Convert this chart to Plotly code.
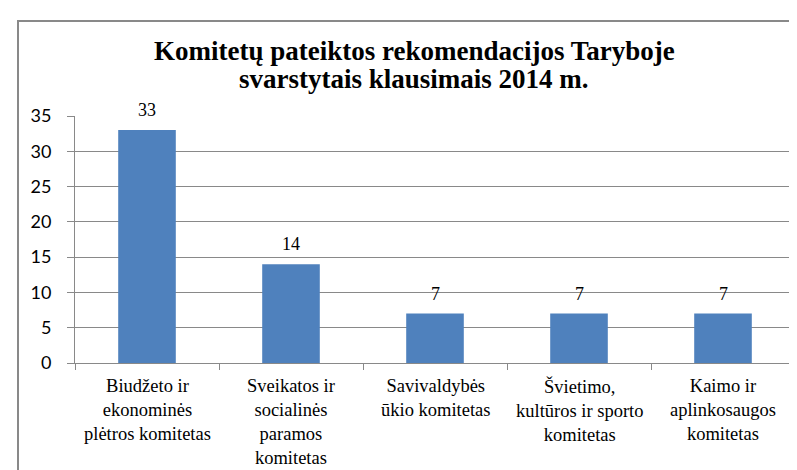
import plotly.graph_objects as go

categories = [
    "Biudžeto ir<br>ekonominės<br>plėtros komitetas",
    "Sveikatos ir<br>socialinės<br>paramos<br>komitetas",
    "Savivaldybės<br>ūkio komitetas",
    "Švietimo,<br>kultūros ir sporto<br>komitetas",
    "Kaimo ir<br>aplinkosaugos<br>komitetas",
]
values = [33, 14, 7, 7, 7]
title_lines = ["Komitetų pateiktos rekomendacijos Taryboje", "svarstytais klausimais 2014 m."]

SERIF = "Liberation Serif"
W, H = 797, 470
ml, mr, mt, mb = 67, 10, 108, 115
pw, ph = W - ml - mr, H - mt - mb

fig = go.Figure(go.Bar(
    x=categories, y=values,
    marker=dict(color="#4F81BD", line=dict(width=0)),
))

annots = []
for line, ypx in zip(title_lines, [43, 71]):
    annots.append(dict(text="<b>" + line + "</b>", xref="paper", yref="paper",
                       x=(406 - ml) / pw, y=1 + (mt - ypx) / ph, xanchor="center", yanchor="middle",
                       showarrow=False, font=dict(family=SERIF, size=27, color="#000")))
# category labels below the axis, placed by category through the x axis
for c in categories:
    annots.append(dict(text=c, xref="x", yref="paper", x=c, y=0, yshift=-11,
                       xanchor="center", yanchor="top", showarrow=False, align="center",
                       font=dict(family=SERIF, size=18.5, color="#000")))
# value labels above the bars
for c, v in zip(categories, values):
    annots.append(dict(text=str(v), xref="x", yref="y", x=c, y=v, yshift=8,
                       xanchor="center", yanchor="bottom", showarrow=False,
                       font=dict(family=SERIF, size=18, color="#000")))

fig.update_layout(
    width=W, height=H,
    margin=dict(l=ml, r=mr, t=mt, b=mb),
    paper_bgcolor="white", plot_bgcolor="white",
    font=dict(family=SERIF, color="#000"),
    bargap=0.6, showlegend=False,
    annotations=annots,
    shapes=[dict(type="rect", xref="paper", yref="paper",
                 x0=(10 - ml) / pw, x1=1.1, y0=-0.6, y1=1 + (mt - 13) / ph,
                 line=dict(color="#898989", width=2), fillcolor="rgba(0,0,0,0)", layer="below")],
)
fig.update_xaxes(
    showline=True, linecolor="#898989", linewidth=1,
    ticks="outside", tickson="boundaries", ticklen=6, tickcolor="#898989",
    showticklabels=False,
    showgrid=False,
)
fig.update_yaxes(
    range=[0, 35], dtick=5, tick0=0,
    showline=True, linecolor="#898989", linewidth=1,
    ticks="outside", ticklen=7, tickcolor="#898989",
    ticklabelstandoff=12,
    gridcolor="#898989", gridwidth=1,
    tickfont=dict(family="Lato", size=18, color="#000"),
    zeroline=False,
)
fig.write_html("out.html")
